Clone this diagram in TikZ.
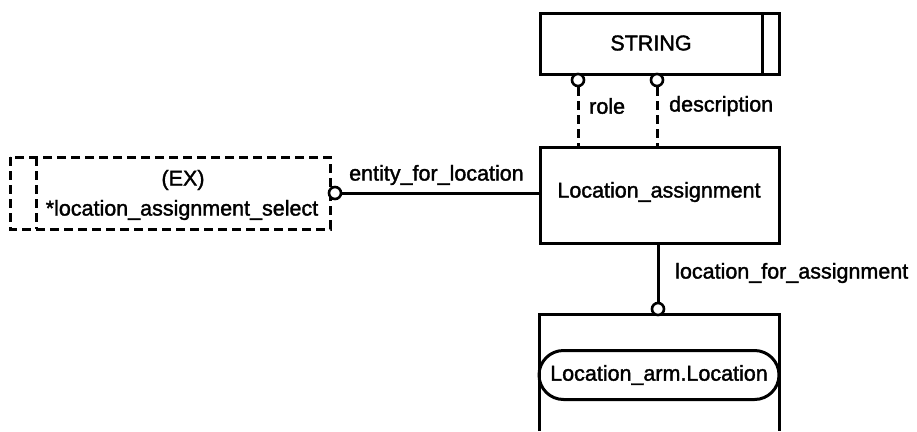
\documentclass[tikz,border=0pt]{standalone}
\usepackage{fontspec}
\setmainfont[FakeBold=1.6]{Liberation Sans}
\usetikzlibrary{shapes.misc}
\begin{document}
\begin{tikzpicture}[x=1pt,y=-1pt,
  ent/.style={draw,line width=3pt,minimum width=239pt,inner sep=0pt},
  lbl/.style={font=\fontsize{21.5}{24}\selectfont,inner sep=0pt},
  conn/.style={line width=3pt},
  dconn/.style={line width=3pt,dash pattern=on 9pt off 5pt},
  circ/.style={circle,draw,line width=2.6pt,fill=white,minimum size=12pt,inner sep=0pt}]
\useasboundingbox (0,0) rectangle (917,431);
% STRING
\node[ent,minimum height=61pt,anchor=north west] (str) at (539,12) {};
\draw[line width=3pt] (762,12) -- (762,73);
\node[lbl] (strt) at (651,43) {STRING};
% Location_assignment
\node[ent,minimum height=96pt,anchor=north west] (la) at (539,146) {};
\node[lbl] (lat) at (659,192) {Location\_assignment};
% role / description
\node[circ] (c1) at (578,80) {};
\node[circ] (c2) at (657,80) {};
\coordinate (r1) at (578,146);
\coordinate (r2) at (657,146);
\draw[dconn] (c1.south) -- (r1);
\draw[dconn] (c2.south) -- (r2);
\node[lbl,anchor=west] (rl) at (589,106) {role};
\node[lbl,anchor=west] (dl) at (669,106) {description};
% bottom box
\draw[line width=3pt] (539,431) -- (539,314) -- (779,314) -- (779,431);
\node[draw,line width=3pt,rounded rectangle,minimum width=240pt,minimum height=49pt,inner sep=0pt,font=\fontsize{21.5}{24}\selectfont] (loc) at (659,375) {Location\_arm.Location};
\node[circ] (c3) at (658,309) {};
\coordinate (lb) at (658,242);
\draw[conn] (lb) -- (c3.north);
\node[lbl,anchor=west] (lfa) at (675,273) {location\_for\_assignment};
% left select box
\draw[line width=3pt,dash pattern=on 9pt off 5pt] (10,157) rectangle (330,229);
\draw[line width=3pt,dash pattern=on 9pt off 5pt] (36,157) -- (36,229);
\node[lbl] (ex) at (183,180) {(EX)};
\node[lbl] (sel) at (182,210) {*location\_assignment\_select};
\node[circ] (c4) at (335,193) {};
\coordinate (la1) at (539,193);
\draw[conn] (c4.east) -- (la1);
\node[lbl,anchor=west] (efl) at (349,175) {entity\_for\_location};
\end{tikzpicture}
\end{document}
